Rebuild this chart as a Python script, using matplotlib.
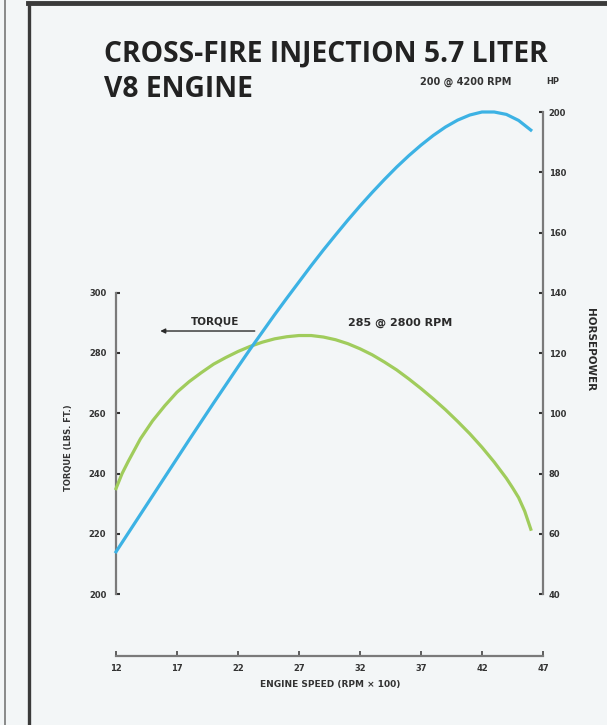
'''
Cross-Fire Injection 5.7 liter V8 engine: torque and horsepower vs engine speed.
'''

import matplotlib
matplotlib.use('Agg')
import matplotlib.pyplot as plt
from matplotlib.lines import Line2D

# engine speed in RPM / 100
speed_torque = [12, 12.5, 13, 14, 15, 16, 17, 18, 19, 20, 21, 22, 23, 24, 25, 26, 27, 28, 29,
                30, 31, 32, 33, 34, 35, 36, 37, 38, 39, 40, 41, 42, 43, 44, 44.5, 45, 45.5, 46]
torque = [235, 240, 244, 251.5, 257.5, 262.5, 267, 270.5, 273.5, 276.3, 278.5, 280.5, 282.2,
          283.6, 284.7, 285.4, 285.8, 285.8, 285.3, 284.4, 283.1, 281.4, 279.4, 277, 274.4,
          271.4, 268.2, 264.8, 261.2, 257.3, 253.2, 248.7, 243.8, 238.4, 235.3, 232, 227.5, 221.5]

speed_hp = [12, 13, 14, 15, 16, 17, 18, 19, 20, 21, 22, 23, 24, 25, 26, 27, 28, 29, 30,
            31, 32, 33, 34, 35, 36, 37, 38, 39, 40, 41, 42, 43, 44, 45, 46]
hp = [54, 60.2, 66.4, 72.6, 78.8, 85, 91.2, 97.3, 103.4, 109.4, 115.4, 121.3, 127, 132.7,
      138.2, 143.6, 149, 154.2, 159.2, 164.1, 168.8, 173.3, 177.6, 181.7, 185.5, 189, 192.2,
      195, 197.3, 199, 200, 200, 199.2, 197.2, 194]

x_ticks = [12, 17, 22, 27, 32, 37, 42, 47]
torque_ticks = [200, 220, 240, 260, 280, 300]
hp_ticks = [40, 60, 80, 100, 120, 140, 160, 180, 200]

W, H = 607, 725
bg = '#f3f6f7'
ink = '#2b2b2b'
axis_col = '#7a7a7a'
tick_font = dict(fontsize=6, fontweight='bold', color='#333333')
note_font = dict(fontsize=7.5, fontweight='bold', color='#2a2a2a')


def fx(px):
    return px / W


def fy(py):
    return 1 - py / H


fig = plt.figure(figsize=(W / 100, H / 100), dpi=100, facecolor=bg)

ax = fig.add_axes([fx(116), fy(594), (543 - 116) / W, (594 - 112) / H])
ax.patch.set_alpha(0)
ax.set_xlim(12, 47)
ax.set_ylim(200, 360)
ax2 = ax.twinx()
ax2.set_ylim(40, 200)

ax.plot(speed_torque, torque, color='#a0cc5c', lw=2.3, solid_joinstyle='round',
        clip_on=False, zorder=3)
ax2.plot(speed_hp, hp, color='#3cb2e4', lw=2.3, solid_joinstyle='round',
         clip_on=False, zorder=4)

for s in ['top', 'right']:
    ax.spines[s].set_visible(False)
for s in ['top', 'left', 'bottom']:
    ax2.spines[s].set_visible(False)

ax.spines['left'].set_bounds(200, 300)
ax.spines['bottom'].set_position(('outward', 44.5))
for sp in [ax.spines['left'], ax.spines['bottom'], ax2.spines['right']]:
    sp.set_color(axis_col)
    sp.set_linewidth(1.6)

ax.set_xticks(x_ticks)
ax.set_yticks(torque_ticks)
ax2.set_yticks(hp_ticks)
ax.tick_params(axis='x', direction='in', length=3.5, width=1.2, color='#444444', pad=6)
ax.tick_params(axis='y', direction='in', length=3, width=1.5, color='#333333', pad=7)
ax2.tick_params(axis='y', direction='in', length=3, width=1.5, color='#333333', pad=4)
for lab in ax.get_xticklabels() + ax.get_yticklabels() + ax2.get_yticklabels():
    lab.set(**tick_font)

# title
title_font = dict(fontsize=20.3, fontweight='bold', color='#222222', family='Open Sans')
fig.text(fx(104), fy(62), 'CROSS-FIRE INJECTION 5.7 LITER', va='baseline', **title_font)
fig.text(fx(104), fy(97), 'V8 ENGINE', va='baseline', **title_font)

# annotations
fig.text(fx(466), fy(82), '200 @ 4200 RPM', ha='center', va='center',
         fontsize=7, fontweight='bold', color='#333333')
fig.text(fx(553), fy(82), 'HP', ha='center', va='center', **tick_font)
fig.text(fx(400), fy(323), '285 @ 2800 RPM', ha='center', va='center',
         fontsize=8, fontweight='bold', color='#2a2a2a')
fig.text(fx(215), fy(322), 'TORQUE', ha='center', va='center', **note_font)
ax.annotate('', xy=(15.4, 287.3), xytext=(23.6, 287.3),
            arrowprops=dict(arrowstyle='-|>', color=ink, lw=1.0, mutation_scale=7))
ax2.annotate('', xy=(46.6, 200.5), xytext=(44.4, 200.5),
             arrowprops=dict(arrowstyle='-|>', color=ink, lw=1.6, mutation_scale=5))

# axis titles
fig.text(fx(69), fy(448), 'TORQUE (LBS. FT.)', rotation=90, ha='center', va='center', **tick_font)
fig.text(fx(590), fy(350), 'HORSEPOWER', rotation=270, ha='center', va='center', **note_font)
fig.text(fx(330), fy(685), 'ENGINE SPEED (RPM × 100)', ha='center', va='center',
         fontsize=6.5, fontweight='bold', color='#333333')

# scanned page frame
fig.add_artist(Line2D([fx(5), fx(5)], [0, 1], transform=fig.transFigure, color='#777777', lw=1.2))
fig.add_artist(Line2D([fx(29), fx(29)], [0, fy(3)], transform=fig.transFigure, color='#3a3a3a', lw=2.4))
fig.add_artist(Line2D([fx(28), 1], [fy(2.5), fy(2.5)], transform=fig.transFigure, color='#3a3a3a', lw=3.5))

fig.savefig('out.png', dpi=100, facecolor=bg)
